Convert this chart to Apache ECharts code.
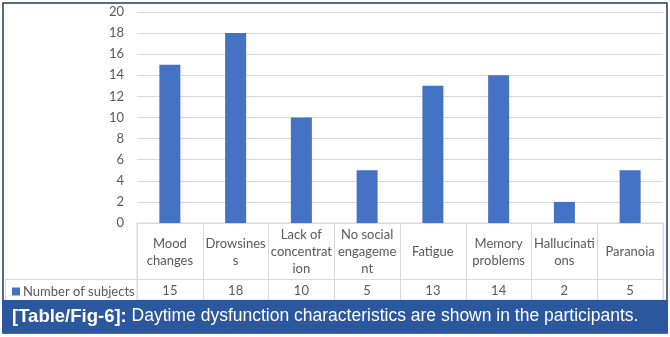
<!DOCTYPE html>
<html><head><meta charset="utf-8">
<script src="https://cdn.jsdelivr.net/npm/echarts@6/dist/echarts.min.js"></script>
<style>html,body{margin:0;padding:0;background:#fff}#c{width:670px;height:337px}</style>
</head><body><div id="c"></div>
<script>
const categories = ["Mood\nchanges","Drowsines\ns","Lack of\nconcentrat\nion","No social\nengageme\nnt","Fatigue","Memory\nproblems","Hallucinati\nons","Paranoia"];
const values = [15,18,10,5,13,14,2,5];
const seriesName = "Number of subjects";
const yTicks = {min:0,max:20,interval:2};
const captionBold = "[Table/Fig-6]:";
const captionText = " Daytime dysfunction characteristics are shown in the participants.";

const font = "Lato";
const grey = "#595959";
const lineC = "#d9d9d9";
const chart = echarts.init(document.getElementById('c'));
chart.setOption({
  animation:false,
  textStyle:{fontFamily:font},
  grid:[
    {left:137,right:7,top:12,bottom:114},
    {left:137,right:7,top:223,bottom:37,show:true,borderColor:lineC,borderWidth:1}
  ],
  legend:{left:7,top:280,itemWidth:8,itemHeight:8,icon:'rect',itemGap:0,
    textStyle:{fontFamily:font,fontSize:13,color:grey,padding:[0,0,0,-2]},data:[seriesName]},
  xAxis:[
    {type:'category',gridIndex:0,data:categories,axisTick:{show:false},
     axisLine:{lineStyle:{color:lineC}},
     axisLabel:{margin:29,verticalAlign:'middle',fontFamily:font,fontSize:13,color:grey,lineHeight:17,interval:0}},
    {type:'category',gridIndex:0,position:'bottom',data:values.map(String),axisTick:{show:false},
     axisLine:{show:false},
     axisLabel:{margin:68,verticalAlign:'middle',fontFamily:font,fontSize:13,color:grey,interval:0}},
    {type:'category',gridIndex:1,data:categories,axisTick:{show:false},axisLine:{show:false},axisLabel:{show:false},
     splitLine:{show:true,interval:0,lineStyle:{color:lineC}}}
  ],
  yAxis:[
    {type:'value',gridIndex:0,min:yTicks.min,max:yTicks.max,interval:yTicks.interval,
     axisLine:{show:false},axisTick:{show:false},
     axisLabel:{fontFamily:font,fontSize:13,color:grey,margin:13},
     splitLine:{lineStyle:{color:lineC}}},
    {type:'value',gridIndex:1,show:false}
  ],
  series:[{name:seriesName,type:'bar',xAxisIndex:0,yAxisIndex:0,data:values,barWidth:21,itemStyle:{color:'#4472C4'}}],
  graphic:[
    {type:'line',shape:{x1:5,y1:279.5,x2:663,y2:279.5},style:{stroke:lineC,lineWidth:1},z:10},
    {type:'line',shape:{x1:5.5,y1:279,x2:5.5,y2:300},style:{stroke:lineC,lineWidth:1},z:10},
    {type:'rect',shape:{x:3,y:3,width:664,height:330},style:{fill:null,stroke:'#1f3b5c',lineWidth:1.5},z:20},
    {type:'rect',shape:{x:2,y:300,width:666,height:33},style:{fill:'#2a579e'},z:30},
    {type:'text',left:12,top:307,z:31,style:{
      text:'{b|'+captionBold+'}{r|'+captionText+'}',
      rich:{b:{fontFamily:'Liberation Sans',fontWeight:'bold',fontSize:18.5,fill:'#fff',color:'#fff'},
            r:{fontFamily:'Liberation Sans',fontSize:17.5,fill:'#fff',color:'#fff'}}}}
  ]
});
</script></body></html>
